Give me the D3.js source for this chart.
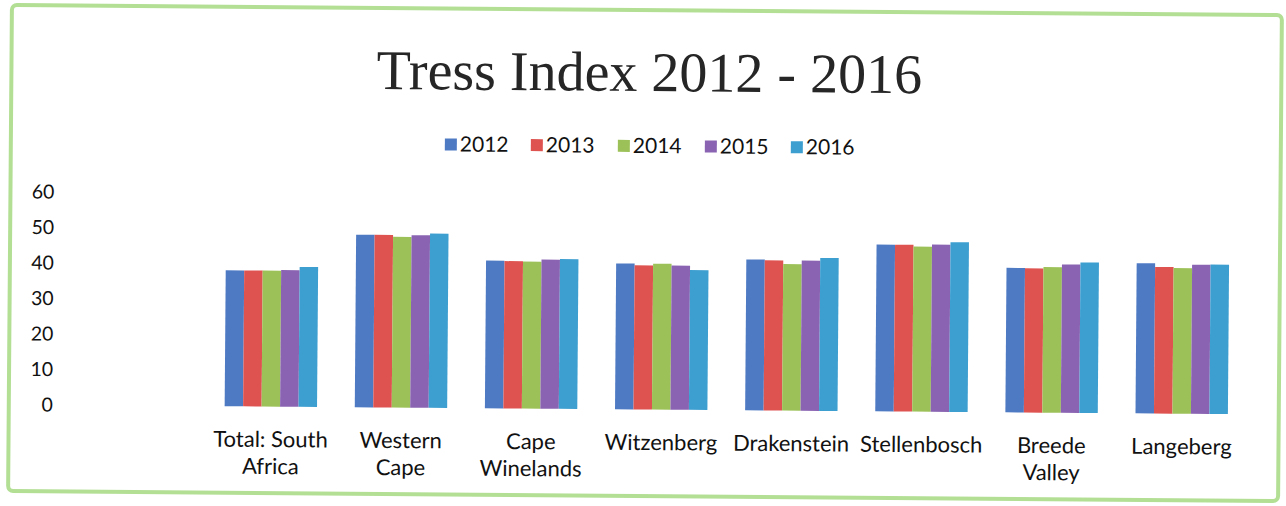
<!DOCTYPE html>
<html>
<head>
<meta charset="utf-8">
<script src="https://cdn.jsdelivr.net/npm/d3@7"></script>
<style>
  html, body { margin: 0; padding: 0; background: #fff; }
  svg { display: block; }
</style>
</head>
<body>
<svg id="chart" width="1286" height="506"></svg>
<script>
// Tress Index by area, 2012 - 2016
const categories = [
  ["Total: South", "Africa"],
  ["Western", "Cape"],
  ["Cape", "Winelands"],
  ["Witzenberg"],
  ["Drakenstein"],
  ["Stellenbosch"],
  ["Breede", "Valley"],
  ["Langeberg"]
];
const years = ["2012", "2013", "2014", "2015", "2016"];
const v2012 = [38.3, 48.6, 41.6, 41.1, 42.5, 47.0, 40.7, 42.3];
const v2013 = [38.3, 48.6, 41.5, 40.6, 42.3, 47.0, 40.6, 41.3];
const v2014 = [38.3, 48.1, 41.4, 41.1, 41.3, 46.5, 41.0, 41.0];
const v2015 = [38.5, 48.6, 42.0, 40.6, 42.3, 47.1, 41.8, 42.0];
const v2016 = [39.4, 49.1, 42.2, 39.4, 43.1, 47.8, 42.4, 42.1];
const yTicks = [0, 10, 20, 30, 40, 50, 60];

const seriesValues = [v2012, v2013, v2014, v2015, v2016];
const colors = ["#4e7ac4", "#de5350", "#9cc158", "#8a64b2", "#3d9ed0"];

const svg = d3.select("#chart");
// whole sheet sits at a very slight clockwise tilt
const root = svg.append("g").attr("transform", "rotate(0.45 643 253)");

// green rounded frame
root.append("rect")
  .attr("x", 10).attr("y", 10)
  .attr("width", 1270).attr("height", 486)
  .attr("rx", 5)
  .attr("fill", "#fff")
  .attr("stroke", "#b3df95")
  .attr("stroke-width", 4);

// title
root.append("text")
  .attr("x", 648).attr("y", 91)
  .attr("text-anchor", "middle")
  .attr("font-family", "Liberation Serif, serif")
  .attr("font-size", 56)
  .attr("fill", "#262626")
  .text("Tress Index 2012 - 2016");

// legend
const legendX = [444, 530, 617, 704, 790];
const legend = root.append("g");
years.forEach((y, i) => {
  legend.append("rect")
    .attr("x", legendX[i]).attr("y", 140)
    .attr("width", 12).attr("height", 12)
    .attr("fill", colors[i]);
  legend.append("text")
    .attr("x", legendX[i] + 15).attr("y", 153)
    .attr("font-family", "Lato, sans-serif")
    .attr("font-size", 21)
    .attr("fill", "#111")
    .text(y);
});

// scales
const x0 = d3.scaleBand()
  .domain(categories.map((c, i) => i))
  .range([207, 1248])
  .paddingInner(0.29)
  .paddingOuter(0.145);
const x1 = d3.scaleBand()
  .domain(years.map((y, i) => i))
  .range([0, x0.bandwidth()]);
const y = d3.scaleLinear().domain([0, 60]).range([409.5, 196.5]);

// y axis labels (no line, no ticks)
const yAxis = d3.axisLeft(y).tickValues(yTicks).tickSize(0).tickPadding(0);
const yg = root.append("g").attr("transform", "translate(54,0)").call(yAxis);
yg.select(".domain").remove();
yg.selectAll("text")
  .attr("font-family", "Lato, sans-serif")
  .attr("font-size", 19.5)
  .attr("fill", "#111");

// bars
const groups = root.append("g").selectAll("g")
  .data(categories.map((c, i) => i))
  .join("g")
  .attr("transform", i => `translate(${x0(i)},0)`);
groups.selectAll("rect")
  .data(i => seriesValues.map((s, k) => ({ k, v: s[i] })))
  .join("rect")
  .attr("x", d => x1(d.k))
  .attr("width", x1.bandwidth())
  .attr("y", d => y(d.v))
  .attr("height", d => y(0) - y(d.v))
  .attr("fill", d => colors[d.k]);

// category labels
const xg = root.append("g");
categories.forEach((lines, i) => {
  const t = xg.append("text")
    .attr("x", x0(i) + x0.bandwidth() / 2)
    .attr("y", 450)
    .attr("text-anchor", "middle")
    .attr("font-family", "Lato, sans-serif")
    .attr("font-size", 22)
    .attr("fill", "#111");
  lines.forEach((ln, j) => {
    t.append("tspan")
      .attr("x", x0(i) + x0.bandwidth() / 2)
      .attr("dy", j === 0 ? 0 : 27)
      .text(ln);
  });
});
</script>
</body>
</html>
